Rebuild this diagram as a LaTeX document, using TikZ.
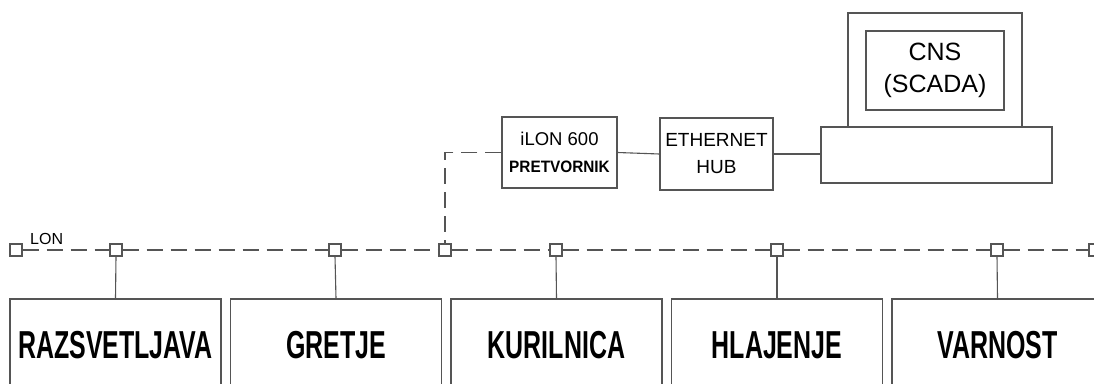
\documentclass[tikz,border=0pt]{standalone}
\usepackage{fontspec}
\setmainfont{Liberation Sans}
\definecolor{ln}{RGB}{85,85,85}
\begin{document}
\begin{tikzpicture}[x=1pt,y=-1pt,
  wire/.style={draw=ln,line width=1.1pt},
  lonwire/.style={draw=ln,line width=1.1pt,dash pattern=on 16pt off 8pt},
  sq/.style={draw=ln,fill=white,line width=1.1pt,minimum size=12pt,inner sep=0pt},
  bigbox/.style={draw=ln,line width=1.1pt,minimum width=211pt,minimum height=92pt,inner sep=0pt,font=\fontsize{39}{39}\selectfont\bfseries},
  devbox/.style={draw=ln,line width=1.1pt,inner sep=0pt,align=center}]
\clip (0,0) rectangle (1094,383);
\fill[white] (0,0) rectangle (1094,383);
% LON bus squares
\node[sq] (s0) at (16,250) {};
\node[sq] (s1) at (116,250) {};
\node[sq] (s2) at (335,250) {};
\node[sq] (s3) at (445,250) {};
\node[sq] (s4) at (556,250) {};
\node[sq] (s5) at (777,250) {};
\node[sq] (s6) at (997,250) {};
\node[sq] (s7) at (1095,250) {};
% dashed bus segments
\foreach \a/\b in {s0/s1,s1/s2,s2/s3,s3/s4,s4/s5,s5/s6,s6/s7}{
  \draw[lonwire] (\a.east) -- (\b.west);
}
\node[anchor=south west,inner sep=0pt,font=\fontsize{16}{16}\selectfont] (lon) at (30,245) {LON};
% subsystem boxes
\node[bigbox] (b1) at (115.5,345) {\scalebox{0.64}[1]{RAZSVETLJAVA}};
\node[bigbox] (b2) at (336,345) {\scalebox{0.64}[1]{GRETJE}};
\node[bigbox] (b3) at (556.5,345) {\scalebox{0.64}[1]{KURILNICA}};
\node[bigbox] (b4) at (777,345) {\scalebox{0.64}[1]{HLAJENJE}};
\node[bigbox] (b5) at (997.5,345) {\scalebox{0.64}[1]{VARNOST}};
\draw[wire] (s1.south) -- (b1.north);
\draw[wire] (s2.south) -- (b2.north);
\draw[wire] (s4.south) -- (b3.north);
\draw[wire] (s5.south) -- (b4.north);
\draw[wire] (s6.south) -- (b5.north);
% devices
\node[devbox,minimum width=115pt,minimum height=71pt,font=\fontsize{18.5}{27}\selectfont] (ilon) at (559.5,152.5)
  {iLON 600\\{\fontsize{16.5}{16.5}\selectfont\bfseries\scalebox{0.93}[1]{PRETVORNIK}}};
\node[devbox,minimum width=113pt,minimum height=72pt,font=\fontsize{19}{27}\selectfont] (hub) at (716.5,154)
  {ETHERNET\\HUB};
\node[devbox,minimum width=174pt,minimum height=114pt] (mon) at (935,70) {};
\node[devbox,minimum width=138pt,minimum height=79pt,font=\fontsize{25}{32}\selectfont] (scr) at (935,70.5)
  {CNS\\(SCADA)};
\node[devbox,minimum width=231pt,minimum height=56pt,fill=white] (base) at (936.5,155) {};
\draw[wire] (ilon.east) -- (hub.west);
\draw[wire] (hub.east) -- (hub.east -| base.west);
\draw[lonwire] (ilon.west) -| (s3.north);
\end{tikzpicture}
\end{document}
